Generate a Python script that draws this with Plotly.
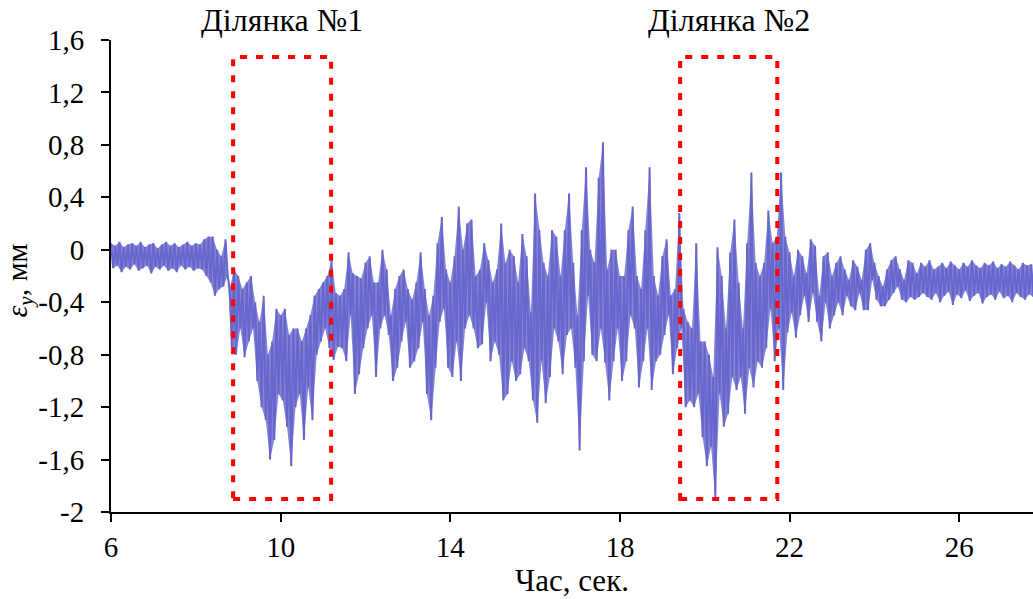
import plotly.graph_objects as go

# ---------------- data ----------------
t_start = 6.0          # s, first sample
t_step = 0.1           # s, spacing of the envelope readings

# upper / lower extent of the signal in each 0.1 s column
upper_lead = [0.05, 0.03, 0.06, 0.02, 0.04, 0.05, 0.03, 0.06, 0.02, 0.04, 0.05,
              0.01, 0.04, 0.06, 0.03, 0.05, 0.02, 0.04, 0.06, 0.03, 0.05, 0.04]
lower_lead = [-0.14, -0.12, -0.17, -0.13, -0.15, -0.11, -0.16, -0.14, -0.12, -0.18, -0.13,
              -0.15, -0.12, -0.16, -0.14, -0.17, -0.12, -0.15, -0.13, -0.16, -0.14, -0.15]

upper_sec1 = [0.08, 0.10, 0.10, 0.00, -0.05, 0.08, -0.30, -0.15, -0.20, -0.30,
              -0.25, -0.20, -0.40, -0.55, -0.35, -0.80, -0.70, -0.45, -0.50, -0.45,
              -0.65, -0.60, -0.60, -0.70, -0.60, -0.50, -0.35, -0.30, -0.25, -0.20,
              -0.08, -0.33]
lower_sec1 = [-0.20, -0.25, -0.35, -0.30, -0.28, -0.20, -0.75, -0.80, -0.60, -0.82,
              -0.70, -0.60, -1.00, -1.20, -1.30, -1.60, -1.45, -1.10, -1.15, -1.35,
              -1.65, -1.20, -1.10, -1.45, -1.05, -1.30, -0.80, -0.70, -0.60, -0.75,
              -0.84, -0.74]

upper_mid = [-0.35, -0.30, -0.02, -0.18, -0.20, -0.22, -0.10, -0.05, -0.25, -0.25,
             0.00, -0.15, -0.50, -0.30, -0.20, -0.15, -0.30, -0.38, -0.25, -0.02,
             -0.30, -0.50, -0.35, 0.05, 0.25, -0.15, -0.25, -0.05, 0.33, 0.00,
             0.20, 0.23, -0.20, -0.15, 0.05, -0.08, -0.25, -0.15, 0.20, -0.10,
             0.00, -0.05, -0.25, 0.12, -0.05, -0.48, 0.43, 0.15, -0.10, -0.20,
             0.15, 0.10, -0.20, 0.15, 0.43, -0.10, -0.50, 0.15, 0.63, 0.00,
             -0.10, 0.55, 0.82, -0.15, 0.00, 0.00, -0.20, -0.20, 0.15, 0.33,
             -0.20, -0.30, 0.15, 0.63, -0.20, -0.35, -0.05, 0.08, -0.35, -0.30,
             0.28]
lower_mid = [-0.75, -0.85, -0.50, -1.10, -0.95, -0.75, -0.60, -0.50, -0.97, -0.60,
             -0.50, -0.65, -1.00, -0.90, -0.70, -0.55, -0.90, -0.85, -0.75, -0.55,
             -1.10, -1.30, -0.90, -0.55, -0.45, -0.90, -0.97, -0.70, -1.00, -0.60,
             -0.50, -0.60, -0.75, -0.72, -0.40, -0.85, -0.70, -0.80, -1.15, -1.10,
             -0.85, -1.00, -0.95, -0.75, -0.85, -1.15, -1.32, -0.85, -1.17, -0.97,
             -0.60, -0.70, -0.95, -0.65, -0.60, -0.90, -1.53, -0.85, -0.35, -0.80,
             -0.85, -0.60, -0.86, -1.15, -0.85, -0.60, -1.00, -0.85, -0.50, -0.60,
             -1.05, -0.85, -0.60, -1.07, -0.85, -0.80, -0.65, -0.50, -0.95, -0.75,
             -0.60]

upper_sec2 = [-0.45, -0.55, -0.60, 0.05, -0.70, -0.70, -0.80, -0.97, 0.02, -0.20,
              -0.60, -0.02, 0.23, -0.25, -0.60, 0.05, 0.59, -0.10, -0.20, -0.10,
              0.30, 0.05, 0.10, 0.59, 0.10, -0.02, -0.20, 0.00, -0.05, -0.18,
              0.08, 0.03, -0.35, -0.05, -0.02]
lower_sec2 = [-1.20, -1.15, -1.20, -1.10, -1.43, -1.65, -1.50, -1.90, -1.10, -1.35,
              -1.25, -0.97, -1.07, -0.97, -1.25, -0.90, -1.05, -0.85, -0.90, -0.75,
              -0.45, -0.85, -0.60, -1.07, -0.63, -0.48, -0.67, -0.50, -0.35, -0.55,
              -0.33, -0.55, -0.70, -0.40, -0.60]

upper_tail = [-0.20, -0.10, -0.05, -0.15, -0.23, -0.08, -0.13, -0.23, 0.00, 0.05,
              -0.10, -0.20, -0.28, -0.15, -0.08, -0.05, -0.15, -0.23, -0.08, -0.10,
              -0.18, -0.10, -0.13, -0.08, -0.15, -0.13, -0.10, -0.14, -0.09, -0.12,
              -0.15, -0.10, -0.13, -0.08, -0.12, -0.14, -0.10, -0.12, -0.09, -0.14,
              -0.11, -0.13, -0.09, -0.12, -0.15, -0.10, -0.12, -0.11]
lower_tail = [-0.50, -0.40, -0.50, -0.35, -0.43, -0.46, -0.33, -0.46, -0.46, -0.23,
              -0.38, -0.43, -0.43, -0.38, -0.33, -0.28, -0.38, -0.40, -0.36, -0.38,
              -0.36, -0.33, -0.36, -0.38, -0.33, -0.40, -0.35, -0.32, -0.42, -0.34,
              -0.37, -0.31, -0.39, -0.35, -0.33, -0.41, -0.36, -0.34, -0.38, -0.32,
              -0.37, -0.35, -0.40, -0.33, -0.36, -0.38, -0.34, -0.36]

# highlighted sections
box_labels = ["Ділянка №1", "Ділянка №2"]
box_t_from = [8.88, 19.42]
box_t_to = [11.19, 21.71]
box_low = -1.90
box_high = 1.47

# axes
x_ticks = [6, 10, 14, 18, 22, 26]
y_ticks = [-2.0, -1.6, -1.2, -0.8, -0.4, 0.0, 0.4, 0.8, 1.2, 1.6]
y_tick_text = ["-2", "-1,6", "-1,2", "-0,8", "-0,4", "0", "0,4", "0,8", "1,2", "1,6"]
x_range = [6, 27.74]
y_range = [-2.0, 1.6]

# ---------------- build ----------------
upper = upper_lead + upper_sec1 + upper_mid + upper_sec2 + upper_tail
lower = lower_lead + lower_sec1 + lower_mid + lower_sec2 + lower_tail

t_up = [t_start + i * t_step for i in range(len(upper))]
t_lo = [t + t_step / 2 for t in t_up]

xs, ys = [], []
for tu, tl, u, l in zip(t_up, t_lo, upper, lower):
    xs += [tu, tl]
    ys += [u, l]

FONT = "Liberation Serif, Times New Roman, serif"
LINE_COLOR = "rgb(102,102,204)"

fig = go.Figure()
# dense band behind the trace (envelope of the noisy record)
fig.add_trace(go.Scatter(x=t_up, y=upper, mode="lines", line=dict(width=0, color=LINE_COLOR),
                         hoverinfo="skip", showlegend=False))
fig.add_trace(go.Scatter(x=t_lo, y=lower, mode="lines", line=dict(width=0, color=LINE_COLOR),
                         fill="tonexty", fillcolor="rgba(102,102,204,0.8)",
                         hoverinfo="skip", showlegend=False))
fig.add_trace(go.Scatter(x=xs, y=ys, mode="lines",
                         line=dict(color=LINE_COLOR, width=2.0),
                         hoverinfo="skip", showlegend=False))

for lab, a, b in zip(box_labels, box_t_from, box_t_to):
    fig.add_shape(type="rect", xref="x", yref="y", x0=a, x1=b, y0=box_low, y1=box_high,
                  line=dict(color="red", width=4, dash="7px,9px"), layer="above")
    fig.add_annotation(x=(a + b) / 2, xref="x", y=1.0, yref="paper", yanchor="bottom",
                       text=lab, showarrow=False, font=dict(family=FONT, size=32, color="black"),
                       yshift=0)

fig.add_annotation(text="<i>ε</i><sub><i>y</i></sub>, мм", textangle=-90,
                   xref="paper", yref="paper", x=-0.1, y=0.49,
                   xanchor="center", yanchor="middle", showarrow=False,
                   font=dict(family=FONT, size=30, color="black"))

axis_common = dict(showgrid=False, zeroline=False, showline=True, linecolor="black",
                   linewidth=2, tickcolor="black", tickwidth=2, ticklen=8)

fig.update_layout(
    width=1033, height=599,
    margin=dict(l=111, r=0, t=40, b=87),
    paper_bgcolor="white", plot_bgcolor="white",
    font=dict(family=FONT, size=29, color="black"),
    xaxis=dict(range=x_range, tickvals=x_ticks, ticks="outside",
               ticklabelstandoff=0,
               title=dict(text="Час, сек.", font=dict(family=FONT, size=31), standoff=7),
               **axis_common),
    yaxis=dict(range=y_range, tickvals=y_ticks, ticktext=y_tick_text, ticks="outside",
               ticklabelstandoff=11, **axis_common),
    xaxis2=dict(range=x_range, tickvals=x_ticks, ticks="inside", overlaying="x",
                anchor="y", side="bottom", showticklabels=False, **axis_common),
    yaxis2=dict(range=y_range, tickvals=y_ticks, ticks="inside", overlaying="y",
                anchor="x", side="left", showticklabels=False, **axis_common),
)

fig.write_html("out.html", config={"displayModeBar": False},
               post_script="document.body.style.margin='0px';")
